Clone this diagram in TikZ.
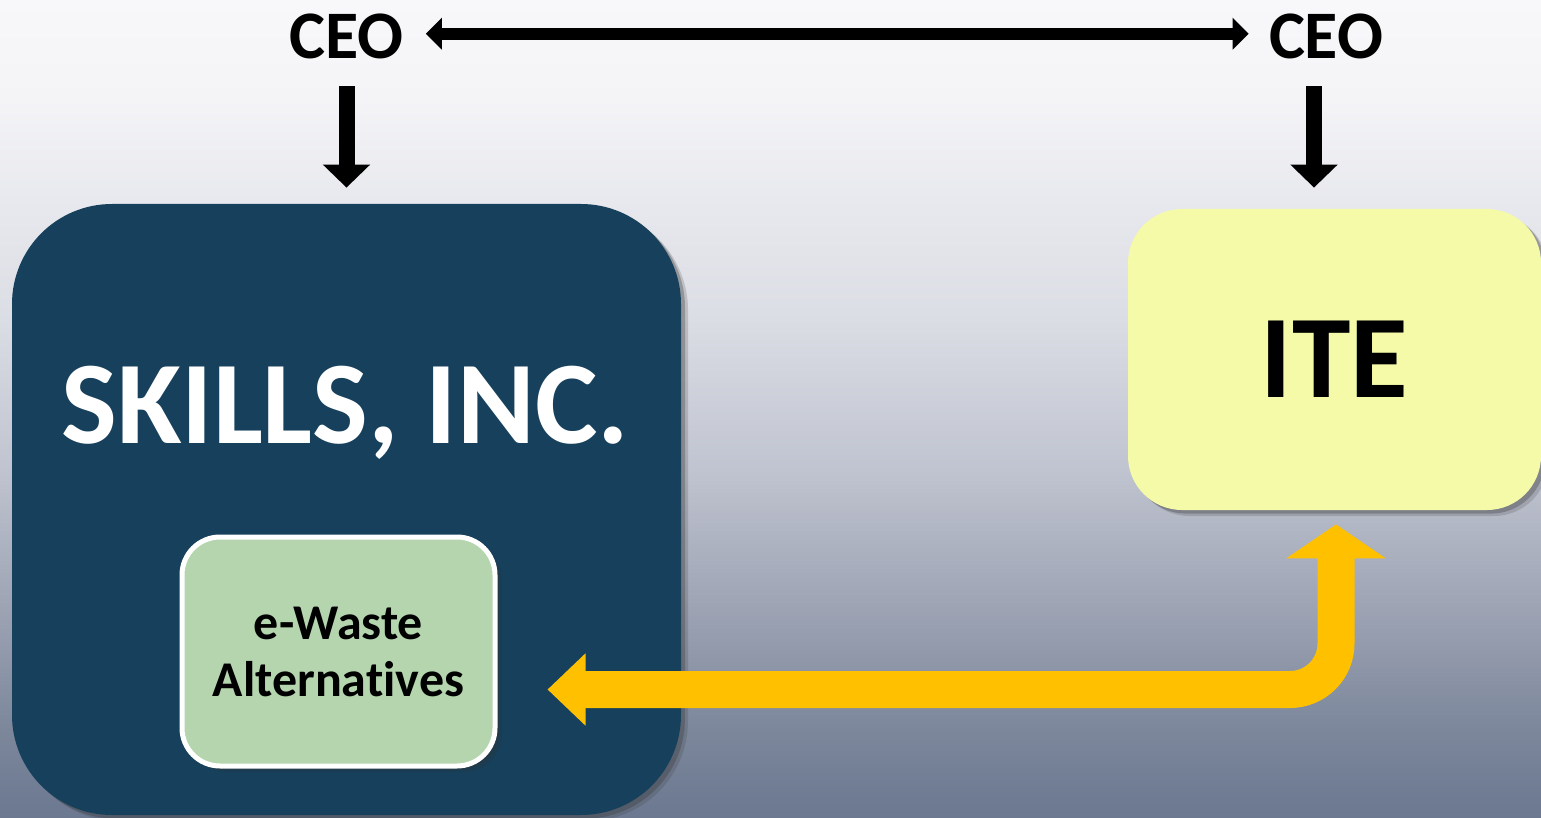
\documentclass[tikz,border=0pt]{standalone}
\usepackage{fontspec}
\setmainfont{Carlito}[Ligatures=NoCommon]
\usetikzlibrary{arrows.meta,shadows,calc}
\definecolor{navy}{HTML}{16405B}
\definecolor{ewgreen}{HTML}{B4D5AE}
\definecolor{iteyellow}{HTML}{F5FAA8}
\definecolor{gold}{HTML}{FFC000}
\definecolor{bgA}{HTML}{F8F8FA}
\definecolor{bgB}{HTML}{F4F4F7}
\definecolor{bgC}{HTML}{E8E9EE}
\definecolor{bgD}{HTML}{DCDEE5}
\definecolor{bgE}{HTML}{C0C4D0}
\definecolor{bgF}{HTML}{9FA5B5}
\definecolor{bgG}{HTML}{7C879B}
\definecolor{bgH}{HTML}{6B7890}
\pgfdeclareverticalshading{bgshade}{100bp}{color(0bp)=(bgH); color(25bp)=(bgH); color(30.4bp)=(bgG); color(38.3bp)=(bgF); color(46.3bp)=(bgE); color(55.9bp)=(bgD); color(62.8bp)=(bgC); color(68.9bp)=(bgB); color(75bp)=(bgA); color(100bp)=(bgA)}
\tikzset{
  shadowed/.style={
    drop shadow={shadow xshift=3.5pt,shadow yshift=-3pt,opacity=0.18,fill=black!80},
    drop shadow={shadow xshift=2pt,shadow yshift=-1.8pt,opacity=0.3,fill=black!80}},
  bigbox/.style={fill=navy, rounded corners=50pt, shadowed, inner sep=0pt},
  ewbox/.style={fill=ewgreen, draw=white, line width=2.5pt, rounded corners=19pt, shadowed, inner sep=0pt, align=center, font=\bfseries\fontsize{25}{28.5}\selectfont},
  itebox/.style={fill=iteyellow, rounded corners=27pt, shadowed, inner sep=0pt, font=\bfseries\fontsize{59}{60}\selectfont},
  ceo/.style={inner sep=0pt, anchor=base, font=\bfseries\fontsize{34}{36}\selectfont},
  bigtext/.style={inner sep=0pt, anchor=base, text=white, font=\bfseries\fontsize{59}{60}\selectfont},
  harrow/.style={line width=6pt, arrows={Triangle[width=15.5pt,length=8pt]-Triangle[width=15.5pt,length=8pt]}},
  varrow/.style={line width=8pt, arrows={-Triangle[width=23pt,length=11.5pt]}},
  yarrow/.style={draw=gold, line width=18.5pt, rounded corners=23pt, arrows={Triangle[width=35pt,length=19pt]-Triangle[width=49pt,length=17pt]}}
}
\begin{document}
\begin{tikzpicture}[x=0.5pt,y=-0.5pt]
\shade[shading=bgshade] (0,0) rectangle (1541,818);
\useasboundingbox (0,0) rectangle (1541,818);
% boxes
\node[bigbox, minimum width=334.5pt, minimum height=305.5pt] (skills) at (346.5,509.5) {};
\node[bigtext] (skillsLabel) at (345,443) {SKILLS, INC.};
\node[ewbox, minimum width=156.5pt, minimum height=114.5pt] (ew) at (338.5,651.5) {e-Waste\\Alternatives};
\node[itebox, minimum width=206.5pt, minimum height=150.5pt] (ite) at (1334.5,359.5) {ITE};
% CEO labels
\node[ceo] (ceoL) at (346.5,58.3) {CEO};
\node[ceo] (ceoR) at (1326,58.3) {CEO};
% connectors
\draw[harrow] ([xshift=11pt,yshift=1.25pt]ceoL.east) -- ([xshift=-10pt,yshift=1.25pt]ceoR.west);
\draw[varrow] ([yshift=-13.5pt]ceoL.south) -- ([yshift=8pt]skills.north);
\draw[varrow] ([xshift=-6pt,yshift=-13.5pt]ceoR.south) -- ($(ceoR.south |- ite.north)+(-12,-21)$);
\draw[yarrow] ([xshift=25pt,yshift=-19pt]ew.east) -| ([xshift=0.75pt,yshift=-7pt]ite.south);
\end{tikzpicture}
\end{document}
